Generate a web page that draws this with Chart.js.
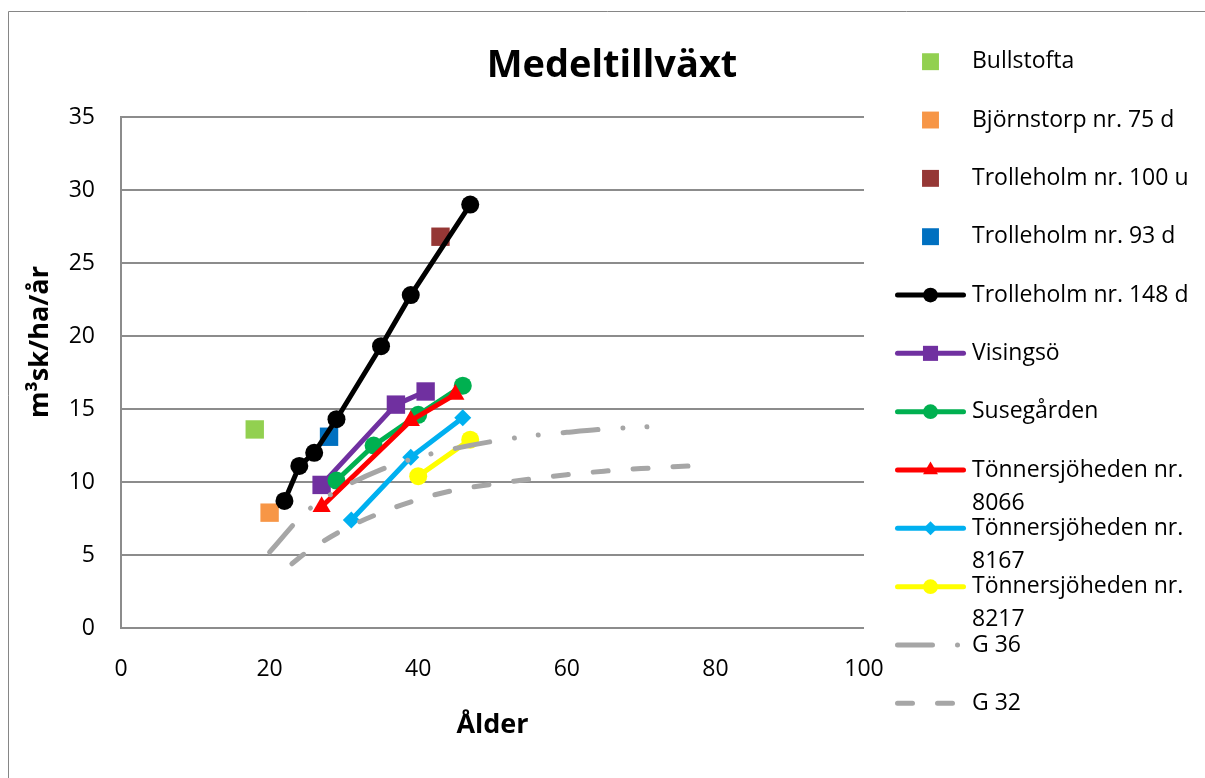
<!DOCTYPE html>
<html>
<head>
<meta charset="utf-8">
<title>Medeltillväxt</title>
<script src="https://cdn.jsdelivr.net/npm/chart.js@4.4.1/dist/chart.umd.min.js"></script>
<style>
  html, body { margin: 0; padding: 0; background: #ffffff; }
  #wrap { width: 1205px; height: 778px; position: relative; }
</style>
</head>
<body>
<div id="wrap"><canvas id="growth" width="1205" height="778"></canvas></div>
<script>
// ---- text ----
const chartTitle = 'Medeltillväxt';
const xAxisTitle = 'Ålder';
const yAxisTitle = 'm³sk/ha/år';

// ---- axis ticks ----
const xTickValues = [0, 20, 40, 60, 80, 100];
const yTickValues = [0, 5, 10, 15, 20, 25, 30, 35];

// ---- series names (legend order) ----
const seriesNames = [
  'Bullstofta',
  'Björnstorp nr. 75 d',
  'Trolleholm nr. 100 u',
  'Trolleholm nr. 93 d',
  'Trolleholm nr. 148 d',
  'Visingsö',
  'Susegården',
  'Tönnersjöheden nr. 8066',
  'Tönnersjöheden nr. 8167',
  'Tönnersjöheden nr. 8217',
  'G 36',
  'G 32'
];

// ---- single-stand observations: age (years), mean annual increment (m³sk/ha/år) ----
const bullstoftaAge = [18];
const bullstoftaMai = [13.6];
const bjornstorpAge = [20];
const bjornstorpMai = [7.9];
const trolleholm100Age = [43];
const trolleholm100Mai = [26.8];
const trolleholm93Age = [28];
const trolleholm93Mai = [13.1];

// ---- repeated measurements ----
const trolleholm148Age = [22, 24, 26, 29, 35, 39, 47];
const trolleholm148Mai = [8.7, 11.1, 12.0, 14.3, 19.3, 22.8, 29.0];
const visingsoAge = [27, 37, 41];
const visingsoMai = [9.8, 15.3, 16.2];
const susegardenAge = [29, 34, 40, 46];
const susegardenMai = [10.1, 12.5, 14.6, 16.6];
const tonn8066Age = [27, 39, 45];
const tonn8066Mai = [8.3, 14.2, 16.0];
const tonn8167Age = [31, 39, 46];
const tonn8167Mai = [7.4, 11.7, 14.4];
const tonn8217Age = [40, 47];
const tonn8217Mai = [10.4, 12.9];

// ---- yield-table curves (site index G 36 and G 32) ----
const g36Age = [20, 25, 30, 35, 40, 45, 50, 55, 60, 65, 70, 72];
const g36Mai = [5.2, 8.0, 9.65, 10.85, 11.7, 12.3, 12.78, 13.15, 13.4, 13.62, 13.76, 13.8];
const g32Age = [23, 25, 30, 35, 40, 45, 50, 55, 60, 65, 70, 75, 78];
const g32Mai = [4.4, 5.2, 6.75, 7.9, 8.8, 9.45, 9.85, 10.2, 10.5, 10.74, 10.92, 11.06, 11.14];

// ---- styling ----
const FONT = '"Open Sans", "DejaVu Sans", sans-serif';
const GRID = '#8c8c8c';
const CURVE_GREY = '#a6a6a6';

const toPoints = (ages, values) => ages.map((a, i) => ({ x: a, y: values[i] }));

function markerOnly(name, ages, values, color) {
  return {
    label: name, data: toPoints(ages, values), showLine: false,
    pointStyle: 'rect', pointRadius: 13, pointHoverRadius: 13,
    pointBackgroundColor: color, pointBorderColor: color, pointBorderWidth: 0,
    backgroundColor: color, borderColor: color
  };
}

function measuredLine(name, ages, values, color, style, radius) {
  return {
    label: name, data: toPoints(ages, values), showLine: true,
    borderColor: color, backgroundColor: color, borderWidth: 5,
    borderCapStyle: 'round', borderJoinStyle: 'round', tension: 0,
    pointStyle: style, pointRadius: radius, pointHoverRadius: radius,
    pointBackgroundColor: color, pointBorderColor: color, pointBorderWidth: 0
  };
}

function tableCurve(name, ages, values, dash) {
  return {
    label: name, data: toPoints(ages, values), showLine: true,
    borderColor: CURVE_GREY, backgroundColor: CURVE_GREY, borderWidth: 5,
    borderCapStyle: 'round', borderJoinStyle: 'round', borderDash: dash,
    cubicInterpolationMode: 'monotone', pointRadius: 0, pointHoverRadius: 0
  };
}

const datasets = [
  markerOnly(seriesNames[0], bullstoftaAge, bullstoftaMai, '#92d050'),
  markerOnly(seriesNames[1], bjornstorpAge, bjornstorpMai, '#f79646'),
  markerOnly(seriesNames[2], trolleholm100Age, trolleholm100Mai, '#953735'),
  markerOnly(seriesNames[3], trolleholm93Age, trolleholm93Mai, '#0070c0'),
  measuredLine(seriesNames[4], trolleholm148Age, trolleholm148Mai, '#000000', 'circle', 9),
  measuredLine(seriesNames[5], visingsoAge, visingsoMai, '#7030a0', 'rect', 13),
  measuredLine(seriesNames[6], susegardenAge, susegardenMai, '#00b050', 'circle', 9),
  measuredLine(seriesNames[7], tonn8066Age, tonn8066Mai, '#ff0000', 'triangle', 10.5),
  measuredLine(seriesNames[8], tonn8167Age, tonn8167Mai, '#00b0f0', 'rectRot', 8.5),
  measuredLine(seriesNames[9], tonn8217Age, tonn8217Mai, '#ffff00', 'circle', 9),
  tableCurve(seriesNames[10], g36Age, g36Mai, [35, 25, 0.01, 24, 0.01, 25]),
  tableCurve(seriesNames[11], g32Age, g32Mai, [15, 25])
];
// later series are painted over earlier ones
datasets.forEach((ds, i) => { ds.order = datasets.length - i; });

// ---- marker drawing for the side legend ----
function drawMarker(ctx, style, r, x, y) {
  ctx.beginPath();
  if (style === 'circle') {
    ctx.arc(x, y, r, 0, Math.PI * 2);
  } else if (style === 'rect') {
    const h = r * Math.SQRT1_2;
    ctx.rect(x - h, y - h, 2 * h, 2 * h);
  } else if (style === 'triangle') {
    for (let k = 0; k < 3; k++) {
      const a = -Math.PI / 2 + k * 2 * Math.PI / 3;
      const px = x + Math.cos(a) * r, py = y + Math.sin(a) * r;
      if (k === 0) ctx.moveTo(px, py); else ctx.lineTo(px, py);
    }
    ctx.closePath();
  } else if (style === 'rectRot') {
    ctx.moveTo(x, y - r); ctx.lineTo(x + r, y); ctx.lineTo(x, y + r); ctx.lineTo(x - r, y);
    ctx.closePath();
  }
  ctx.fill();
}

function wrapText(ctx, text, maxWidth) {
  const words = text.split(' ');
  const lines = [];
  let line = '';
  words.forEach(w => {
    const test = line ? line + ' ' + w : w;
    if (line && ctx.measureText(test).width > maxWidth) { lines.push(line); line = w; }
    else line = test;
  });
  if (line) lines.push(line);
  return lines;
}

const decorations = {
  id: 'decorations',
  beforeDraw(chart) {
    const ctx = chart.ctx;
    ctx.save();
    ctx.fillStyle = '#ffffff';
    ctx.fillRect(0, 0, chart.width, chart.height);
    // outer frame
    ctx.strokeStyle = '#868686';
    ctx.lineWidth = 1;
    ctx.beginPath();
    ctx.moveTo(8.5, chart.height + 5);
    ctx.lineTo(8.5, 11.5);
    ctx.lineTo(chart.width + 5, 11.5);
    ctx.stroke();
    ctx.restore();
  },
  afterDraw(chart) {
    const ctx = chart.ctx;
    ctx.save();
    // chart title
    ctx.fillStyle = '#000000';
    ctx.font = `bold 38px ${FONT}`;
    ctx.textAlign = 'center';
    ctx.textBaseline = 'alphabetic';
    ctx.fillText(chartTitle, 612, 77);

    // value axis title
    ctx.save();
    ctx.translate(40, 342);
    ctx.rotate(-Math.PI / 2);
    ctx.font = `bold 27px ${FONT}`;
    ctx.textBaseline = 'middle';
    ctx.fillText(yAxisTitle, 0, 0);
    ctx.restore();

    // side legend
    const rowTop = 61.7, rowStep = 58.33;
    const lineX0 = 897.5, lineX1 = 963.5, markX = 930.5, textX = 972;
    ctx.font = `23px ${FONT}`;
    ctx.textAlign = 'left';
    ctx.textBaseline = 'middle';
    chart.data.datasets.forEach((ds, i) => {
      const y = rowTop + i * rowStep;
      if (ds.showLine) {
        ctx.save();
        ctx.strokeStyle = ds.borderColor;
        ctx.lineWidth = ds.borderWidth;
        ctx.lineCap = 'round';
        ctx.setLineDash(ds.borderDash || []);
        ctx.beginPath();
        ctx.moveTo(lineX0, y);
        ctx.lineTo(lineX1, y);
        ctx.stroke();
        ctx.restore();
      }
      if (ds.pointRadius > 0) {
        ctx.fillStyle = ds.pointBackgroundColor;
        const r = ds.showLine ? ds.pointRadius * 0.82 : ds.pointRadius * 0.92;
        drawMarker(ctx, ds.pointStyle, r, markX, y);
      }
      ctx.fillStyle = '#000000';
      const lines = wrapText(ctx, ds.label, 228);
      lines.forEach((ln, k) => ctx.fillText(ln, textX, y + k * 33));
    });
    ctx.restore();
  }
};

new Chart(document.getElementById('growth'), {
  type: 'scatter',
  data: { datasets },
  options: {
    responsive: false,
    animation: false,
    events: [],
    layout: { padding: { left: 0, top: 117, right: 341, bottom: 0 } },
    plugins: {
      legend: { display: false },
      tooltip: { enabled: false },
      title: { display: false }
    },
    scales: {
      x: {
        type: 'linear',
        min: xTickValues[0],
        max: xTickValues[xTickValues.length - 1],
        afterBuildTicks: (scale) => { scale.ticks = xTickValues.map(v => ({ value: v })); },
        afterFit: (scale) => { scale.height = 150; },
        grid: { display: false, drawTicks: false },
        border: { display: false },
        ticks: { padding: 28, color: '#000000', font: { family: FONT, size: 23 } },
        title: {
          display: true, text: xAxisTitle, color: '#000000',
          font: { family: FONT, size: 27, weight: 'bold' },
          padding: { top: 0, bottom: 36 }
        }
      },
      y: {
        type: 'linear',
        min: yTickValues[0],
        max: yTickValues[yTickValues.length - 1],
        afterBuildTicks: (scale) => { scale.ticks = yTickValues.map(v => ({ value: v })); },
        afterFit: (scale) => { scale.width = 121; },
        grid: { color: GRID, lineWidth: 2, drawTicks: false },
        border: { display: true, color: GRID, width: 2 },
        ticks: { padding: 26, color: '#000000', font: { family: FONT, size: 23 } },
        title: { display: false }
      }
    }
  },
  plugins: [decorations]
});
</script>
</body>
</html>
